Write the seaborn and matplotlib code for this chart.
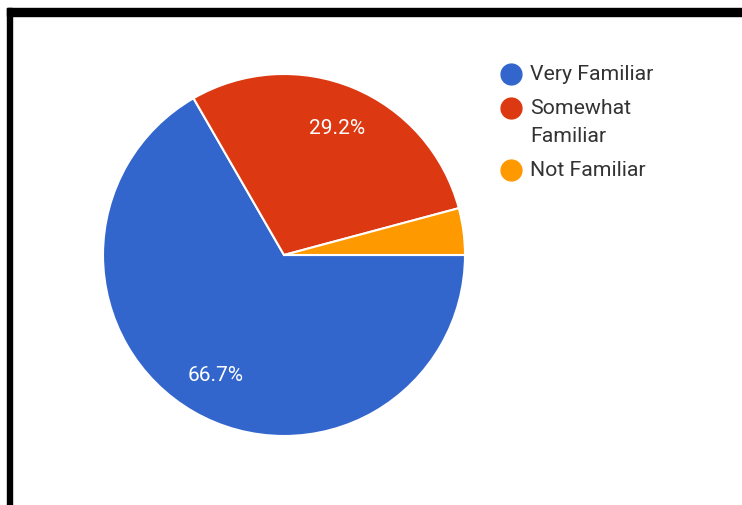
import matplotlib
matplotlib.use("Agg")
import matplotlib.pyplot as plt
from matplotlib.patches import Rectangle
from matplotlib.lines import Line2D
import seaborn as sns

sns.set_theme(style="white")
plt.rcParams["font.family"] = ["Roboto", "DejaVu Sans"]

# Survey responses (counts out of 24)
categories = ["Very Familiar", "Somewhat\nFamiliar", "Not Familiar"]
counts = [16, 7, 1]
colors = ["#3366CC", "#DC3912", "#FF9900"]

W, H = 742, 506
fig = plt.figure(figsize=(W / 100, H / 100), dpi=100)
fig.patch.set_facecolor("white")

# pie axes: centre (284, 256), radius ~181 px
r = 181
cx, cy = 284, 256
ax = fig.add_axes([(cx - r) / W, 1 - (cy + r) / H, 2 * r / W, 2 * r / H])


def pct_label(p):
    return f"{p:.1f}%" if p >= 5 else ""


wedges, texts, autotexts = ax.pie(
    counts,
    colors=colors,
    startangle=0,
    counterclock=False,
    autopct=pct_label,
    pctdistance=0.76,
    radius=1.0,
    wedgeprops=dict(edgecolor="white", linewidth=1.5),
    textprops=dict(color="white", fontsize=15),
)
ax.set_xlim(-1, 1)
ax.set_ylim(-1, 1)
ax.set_aspect("equal")
ax.axis("off")

# legend drawn to the right of the pie
legend_x = 511
text_x = 530
y = 75
for label, col in zip(categories, colors):
    fig.add_artist(Line2D([legend_x / W], [1 - y / H], marker="o", markersize=15,
                          color=col, linestyle="none", transform=fig.transFigure))
    fig.text(text_x / W, 1 - (y - 10.5) / H, label, fontsize=15.3, color="#333333",
             va="top", ha="left", linespacing=1.6, transform=fig.transFigure)
    y += 34 + 28 * label.count("\n")

# dark frame along the top and left
fig.add_artist(Rectangle((7 / W, 1 - 17 / H), 1, 8 / H, color="black",
                         transform=fig.transFigure, zorder=5))
fig.add_artist(Rectangle((7 / W, 0), 5 / W, 1 - 9 / H, color="black",
                         transform=fig.transFigure, zorder=5))

fig.savefig("out.png", dpi=100, facecolor="white")
